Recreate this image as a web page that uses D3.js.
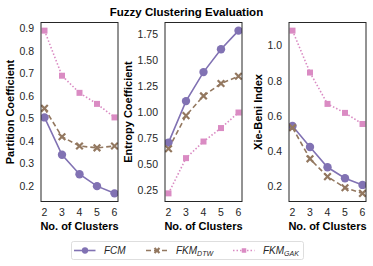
<!DOCTYPE html>
<html>
<head>
<meta charset="utf-8">
<script src="https://d3js.org/d3.v7.min.js"></script>
<style>
body { margin: 0; background: #fff; font-family: "Liberation Sans", Arial, sans-serif; }
.tick-label { font-size: 10.5px; fill: #262626; }
.axis-label { font-size: 11px; font-weight: bold; fill: #000; }
.title { font-size: 11.5px; font-weight: bold; fill: #000; }
.leg-text { font-size: 10px; font-style: italic; fill: #262626; }
</style>
</head>
<body>
<div id="chart"></div>
<script>
var clusters = [2, 3, 4, 5, 6];

// Partition Coefficient
var pcFCM = [0.505, 0.339, 0.253, 0.200, 0.168];
var pcDTW = [0.545, 0.419, 0.378, 0.370, 0.378];
var pcGAK = [0.890, 0.690, 0.614, 0.565, 0.505];

// Entropy Coefficient
var ecFCM = [0.71, 1.11, 1.39, 1.61, 1.79];
var ecDTW = [0.65, 0.97, 1.16, 1.28, 1.35];
var ecGAK = [0.22, 0.56, 0.72, 0.85, 1.00];

// Xie-Beni Index
var xbFCM = [0.545, 0.425, 0.310, 0.248, 0.210];
var xbDTW = [0.535, 0.358, 0.257, 0.194, 0.162];
var xbGAK = [1.086, 0.848, 0.670, 0.619, 0.556];

var pcTicks = [0.2, 0.3, 0.4, 0.5, 0.6, 0.7, 0.8, 0.9];
var ecTicks = [0.25, 0.5, 0.75, 1.0, 1.25, 1.5, 1.75];
var xbTicks = [0.2, 0.4, 0.6, 0.8, 1.0];

var seriesNames = ["FCM", "FKM", "FKM"];
var seriesSubs = ["", "DTW", "GAK"];
var colors = ["#8172B3", "#937860", "#DA8BC3"];
var dashes = [null, "5,3", "1.5,2"];
var markers = ["circle", "x", "square"];

var W = 373, H = 266;
var svg = d3.select("#chart").append("svg").attr("width", W).attr("height", H);

svg.append("text").attr("class", "title")
  .attr("x", W / 2).attr("y", 15.5).attr("text-anchor", "middle")
  .text("Fuzzy Clustering Evaluation");

var panels = [
  { left: 41, label: "Partition Coefficient", ticks: pcTicks, fmt: d3.format(".1f"), data: [pcFCM, pcDTW, pcGAK] },
  { left: 165, label: "Entropy Coefficient", ticks: ecTicks, fmt: d3.format(".2f"), data: [ecFCM, ecDTW, ecGAK] },
  { left: 289, label: "Xie-Beni Index", ticks: xbTicks, fmt: d3.format(".1f"), data: [xbFCM, xbDTW, xbGAK] }
];
var pw = 77, pTop = 22.5, pBot = 201.5;

function drawMarker(g, type, x, y, color, s) {
  s = s || 1;
  if (type == "circle") {
    g.append("circle").attr("cx", x).attr("cy", y).attr("r", 4.2 * s).attr("fill", color);
  } else if (type == "square") {
    g.append("rect").attr("x", x - 3 * s).attr("y", y - 3 * s).attr("width", 6 * s).attr("height", 6 * s).attr("fill", color);
  } else {
    var d = 3.3 * s;
    g.append("path").attr("d", "M" + (x - d) + "," + (y - d) + "L" + (x + d) + "," + (y + d) + "M" + (x - d) + "," + (y + d) + "L" + (x + d) + "," + (y - d))
      .attr("stroke", color).attr("stroke-width", 2.2).attr("fill", "none");
  }
}

panels.forEach(function (p) {
  var all = d3.merge(p.data);
  var ext = d3.extent(all), pad = (ext[1] - ext[0]) * 0.05;
  var x = d3.scaleLinear().domain([1.8, 6.2]).range([p.left, p.left + pw]);
  var y = d3.scaleLinear().domain([ext[0] - pad, ext[1] + pad]).range([pBot, pTop]);
  var g = svg.append("g");

  // y tick labels
  var yt = g.append("g");
  p.ticks.forEach(function (t) {
    yt.append("text").attr("class", "tick-label")
      .attr("x", p.left - 7).attr("y", y(t)).attr("dy", "0.35em")
      .attr("text-anchor", "end").text(p.fmt(t));
  });
  var tw = yt.node().getBBox().width;

  // x tick labels
  clusters.forEach(function (c) {
    g.append("text").attr("class", "tick-label")
      .attr("x", x(c)).attr("y", 212).attr("dy", "0.35em")
      .attr("text-anchor", "middle").text(c);
  });

  g.append("text").attr("class", "axis-label")
    .attr("x", p.left + pw / 2).attr("y", 226.5).attr("dy", "0.35em")
    .attr("text-anchor", "middle").text("No. of Clusters");

  var ly = (pTop + pBot) / 2, lx = p.left - 7 - tw - 5.5;
  g.append("text").attr("class", "axis-label")
    .attr("transform", "translate(" + lx + "," + ly + ") rotate(-90)")
    .attr("text-anchor", "middle").text(p.label);

  var clip = "clip" + p.left;
  svg.append("clipPath").attr("id", clip).append("rect")
    .attr("x", p.left).attr("y", pTop).attr("width", pw).attr("height", pBot - pTop);
  var plot = g.append("g").attr("clip-path", "url(#" + clip + ")");

  p.data.forEach(function (vals, i) {
    var line = d3.line().x(function (d, j) { return x(clusters[j]); }).y(function (d) { return y(d); });
    plot.append("path").datum(vals).attr("d", line)
      .attr("fill", "none").attr("stroke", colors[i]).attr("stroke-width", 1.6)
      .attr("stroke-dasharray", dashes[i]);
  });
  p.data.forEach(function (vals, i) {
    vals.forEach(function (v, j) { drawMarker(plot, markers[i], x(clusters[j]), y(v), colors[i]); });
  });

  g.append("rect").attr("x", p.left).attr("y", pTop).attr("width", pw).attr("height", pBot - pTop)
    .attr("fill", "none").attr("stroke", "#262626").attr("stroke-width", 1);
});

// legend
var leg = svg.append("g");
leg.append("rect").attr("x", 71.5).attr("y", 241.5).attr("width", 232).attr("height", 18).attr("rx", 2)
  .attr("fill", "#fff").attr("stroke", "#d6d6d6").attr("stroke-width", 0.8);
var legX = [74, 146, 233], legY = 250.5;
seriesNames.forEach(function (n, i) {
  leg.append("line").attr("x1", legX[i]).attr("x2", legX[i] + 21.5).attr("y1", legY).attr("y2", legY)
    .attr("stroke", colors[i]).attr("stroke-width", 1.6).attr("stroke-dasharray", dashes[i]);
  drawMarker(leg, markers[i], legX[i] + 11, legY, colors[i], 0.75);
  var t = leg.append("text").attr("class", "leg-text").attr("x", legX[i] + 30).attr("y", legY).attr("dy", "0.35em").text(n);
  if (seriesSubs[i]) {
    t.append("tspan").attr("dy", "0.25em").style("font-size", "7px").text(seriesSubs[i]);
  }
});
</script>
</body>
</html>
